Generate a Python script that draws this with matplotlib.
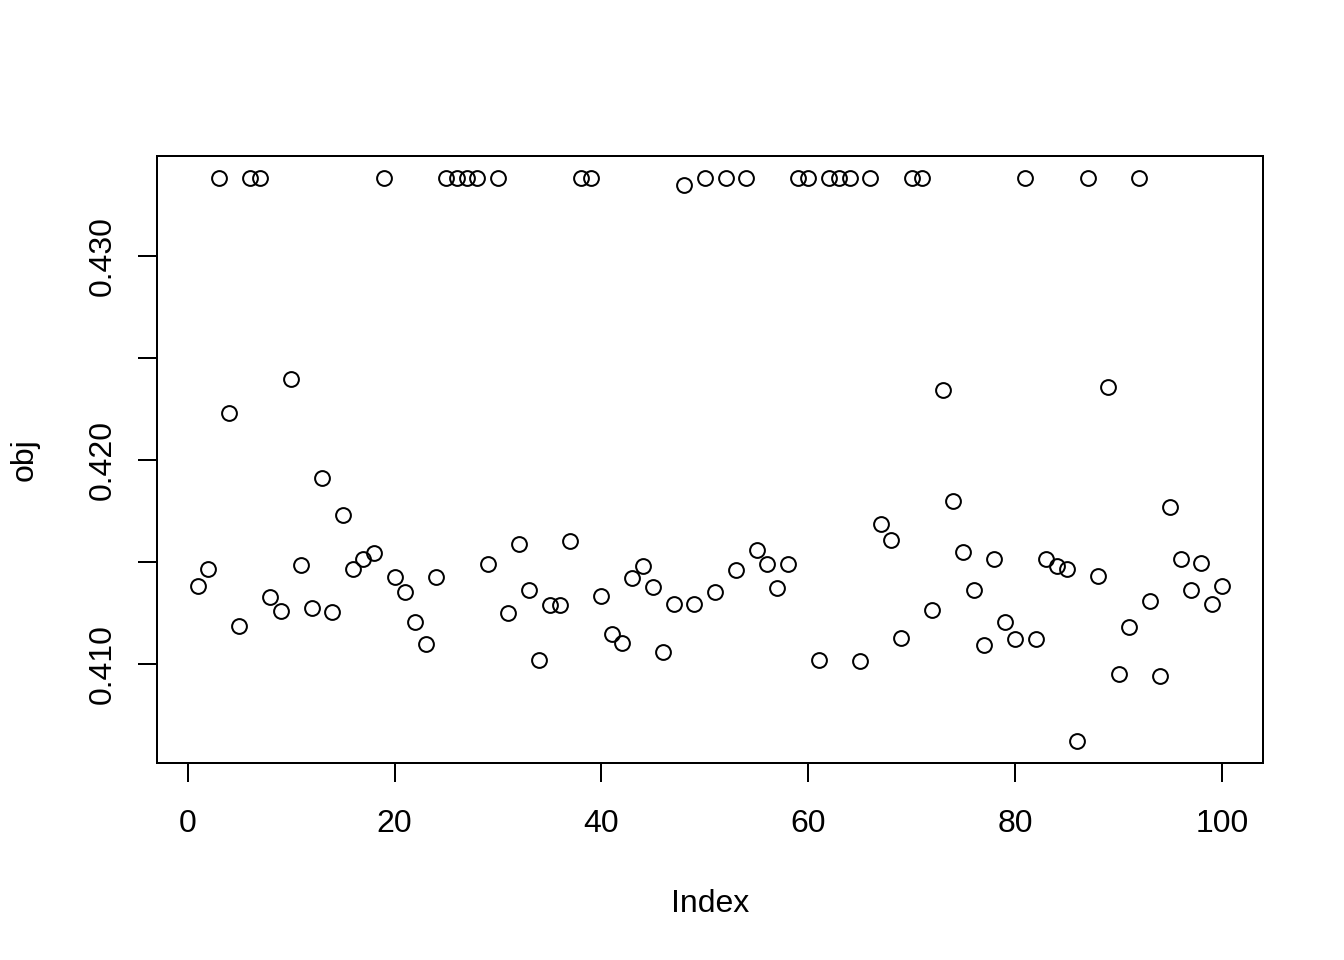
import numpy as np
import matplotlib.pyplot as plt

plt.rcParams["font.family"] = ["Liberation Sans", "DejaVu Sans"]

# objective values, index 1..100
obj = [
    0.41383, 0.41467, 0.43383, 0.42229, 0.41187, 0.43383, 0.43383, 0.41329, 0.41260, 0.42400,
    0.41482, 0.41275, 0.41914, 0.41251, 0.41732, 0.41467, 0.41516, 0.41545, 0.43383, 0.41423,
    0.41354, 0.41206, 0.41098, 0.41423, 0.43383, 0.43383, 0.43383, 0.43383, 0.41487, 0.43383,
    0.41246, 0.41585, 0.41359, 0.41020, 0.41290, 0.41290, 0.41604, 0.43383, 0.43383, 0.41334,
    0.41147, 0.41103, 0.41418, 0.41477, 0.41378, 0.41059, 0.41295, 0.43349, 0.41295, 0.43383,
    0.41354, 0.43383, 0.41462, 0.43383, 0.41560, 0.41491, 0.41373, 0.41487, 0.43383, 0.43383,
    0.41020, 0.43383, 0.43383, 0.43383, 0.41015, 0.43383, 0.41688, 0.41609, 0.41128, 0.43383,
    0.43383, 0.41265, 0.42346, 0.41801, 0.41550, 0.41359, 0.41093, 0.41516, 0.41206, 0.41123,
    0.43383, 0.41123, 0.41516, 0.41477, 0.41467, 0.40622, 0.43383, 0.41432, 0.42361, 0.40951,
    0.41182, 0.43383, 0.41305, 0.40941, 0.41767, 0.41516, 0.41359, 0.41496, 0.41295, 0.41383,
]
index = np.arange(1, len(obj) + 1)

xticks = [0, 20, 40, 60, 80, 100]
yticks = [0.410, 0.415, 0.420, 0.425, 0.430]
ylabels = ["0.410", "", "0.420", "", "0.430"]

fig = plt.figure(figsize=(1344 / 144, 960 / 144), dpi=144)
ax = fig.add_axes([157 / 1344, 1 - 763 / 960, (1263 - 157) / 1344, (763 - 156) / 960])

ax.plot(index, obj, linestyle="none", marker="o", markersize=7.4,
        markerfacecolor="none", markeredgecolor="black", markeredgewidth=1.0)

# R style 4% padding
xr = index.max() - index.min()
ax.set_xlim(index.min() - 0.04 * xr, index.max() + 0.04 * xr)
yr = max(obj) - min(obj)
ax.set_ylim(min(obj) - 0.04 * yr, max(obj) + 0.04 * yr)

ax.set_xticks(xticks)
ax.set_yticks(yticks)
ax.set_yticklabels(ylabels, rotation=90, va="center")
ax.tick_params(axis="both", direction="out", length=9.5, width=1.0, labelsize=16)
ax.tick_params(axis="x", pad=13.5)
ax.tick_params(axis="y", pad=10)
for s in ax.spines.values():
    s.set_linewidth(1.0)

ax.set_xlabel("Index", fontsize=16, labelpad=25)
ax.set_ylabel("obj", fontsize=16, labelpad=24)

fig.savefig("out.png", dpi=144)
